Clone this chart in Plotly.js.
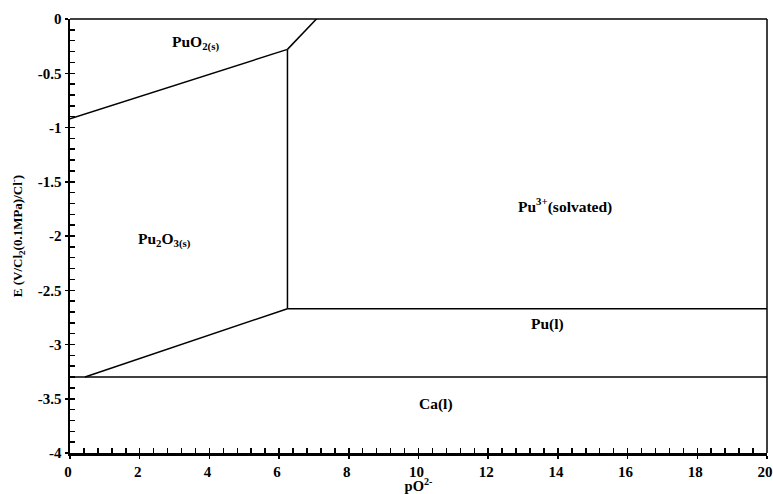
<!DOCTYPE html>
<html>
<head>
<meta charset="utf-8">
<script src="https://cdn.plot.ly/plotly-3.0.1.min.js"></script>
<style>html,body{margin:0;padding:0;background:#fff;}#chart{width:773px;height:494px;}</style>
</head>
<body>
<div id="chart"></div>
<script>
// Boundary lines of the E–pO2- diagram (x = pO2-, y = E)
const puo2Pu2o3X = [0, 6.24];
const puo2Pu2o3Y = [-0.92, -0.28];
const puo2Pu3X = [6.24, 7.1];
const puo2Pu3Y = [-0.28, 0.01];
const pu2o3Pu3X = [6.24, 6.24];
const pu2o3Pu3Y = [-0.28, -2.67];
const pu3PulX = [6.24, 20];
const pu3PulY = [-2.67, -2.67];
const pu2o3PulX = [0.43, 6.24];
const pu2o3PulY = [-3.30, -2.67];
const caX = [0, 20];
const caY = [-3.30, -3.30];

// Region labels
const labelTexts = ['PuO<sub>2(s)</sub>', 'Pu<sub>2</sub>O<sub>3(s)</sub>', 'Pu<sup>3+</sup>(solvated)', 'Pu(l)', 'Ca(l)'];
const labelX = [3.6, 2.7, 14.2, 13.7, 10.5];
const labelY = [-0.22, -2.04, -1.72, -2.81, -3.55];

// Tick labels
const xTicks = [0, 2, 4, 6, 8, 10, 12, 14, 16, 18, 20];
const xTickText = ['0', '2', '4', '6', '8', '10', '12', '14', '16', '18', '20'];
const yTicks = [0, -0.5, -1, -1.5, -2, -2.5, -3, -3.5, -4];
const yTickText = ['0', '-0.5', '-1', '-1.5', '-2', '-2.5', '-3', '-3.5', '-4'];
const xRange = [0, 20];
const yRange = [-4, 0];
const xMinor = 0.4;
const yMinor = 0.1;

const lineStyle = {color: '#000', width: 1.5};
function seg(x, y) {
  return {x: x, y: y, mode: 'lines', type: 'scatter', line: lineStyle, hoverinfo: 'skip', showlegend: false, cliponaxis: false};
}
const data = [
  seg(puo2Pu2o3X, puo2Pu2o3Y),
  seg(puo2Pu3X, puo2Pu3Y),
  seg(pu2o3Pu3X, pu2o3Pu3Y),
  seg(pu3PulX, pu3PulY),
  seg(pu2o3PulX, pu2o3PulY),
  seg(caX, caY),
  // invisible trace to activate the minor-tick overlay axes
  {x: xRange, y: yRange, xaxis: 'x2', yaxis: 'y2', mode: 'markers', marker: {opacity: 0}, hoverinfo: 'skip', showlegend: false}
];

function f(size) {
  return {family: '"Liberation Serif", "Times New Roman", serif', color: '#000', size: size, weight: 'bold'};
}
const bold = arr => arr.map(s => '<b>' + s + '</b>');

const layout = {
  width: 773, height: 494,
  margin: {l: 70, r: 6, t: 19, b: 41},
  paper_bgcolor: '#fff', plot_bgcolor: '#fff',
  showlegend: false,
  font: f(14),
  xaxis: {
    range: xRange, tickmode: 'array', tickvals: xTicks, ticktext: bold(xTickText), automargin: false,
    ticklabelshift: -2,
    showgrid: false, zeroline: false, showline: true, linecolor: '#000', linewidth: 2.5,
    ticks: 'outside', ticklen: 3, tickwidth: 1.5, tickcolor: '#000',
    tickfont: f(15),
    title: {text: '<b>pO<sup>2-</sup></b>', font: f(14.5), standoff: 11}
  },
  yaxis: {
    range: yRange, tickmode: 'array', tickvals: yTicks, ticktext: bold(yTickText), automargin: false,
    showgrid: false, zeroline: false, showline: true, linecolor: '#000', linewidth: 2.5,
    ticks: 'outside', ticklen: 3, tickwidth: 1.5, tickcolor: '#000',
    tickfont: f(15),
    title: {text: '<b>E (V/Cl<sub>2</sub>(0.1MPa)/Cl<sup>-</sup>)</b>', font: f(13), standoff: 12}
  },
  xaxis2: {
    overlaying: 'x', range: xRange, tickmode: 'linear', tick0: 0, dtick: xMinor,
    showticklabels: false, showgrid: false, zeroline: false, showline: false,
    ticks: 'inside', ticklen: 5, tickwidth: 1.5, tickcolor: '#000', automargin: false
  },
  yaxis2: {
    overlaying: 'y', range: yRange, tickmode: 'linear', tick0: 0, dtick: yMinor,
    showticklabels: false, showgrid: false, zeroline: false, showline: false,
    ticks: 'inside', ticklen: 5, tickwidth: 1.5, tickcolor: '#000', automargin: false
  },
  shapes: [
    {type: 'line', xref: 'paper', yref: 'paper', x0: 0, x1: 1, y0: 1, y1: 1, line: {color: '#000', width: 1.5}},
    {type: 'line', xref: 'paper', yref: 'paper', x0: 1, x1: 1, y0: 0, y1: 1, line: {color: '#000', width: 1.5}}
  ],
  annotations: labelTexts.map((t, i) => ({
    x: labelX[i], y: labelY[i], xref: 'x', yref: 'y', text: '<b>' + t + '</b>', showarrow: false,
    font: f(15.5)
  }))
};

Plotly.newPlot('chart', data, layout, {displayModeBar: false, staticPlot: true});
</script>
</body>
</html>
